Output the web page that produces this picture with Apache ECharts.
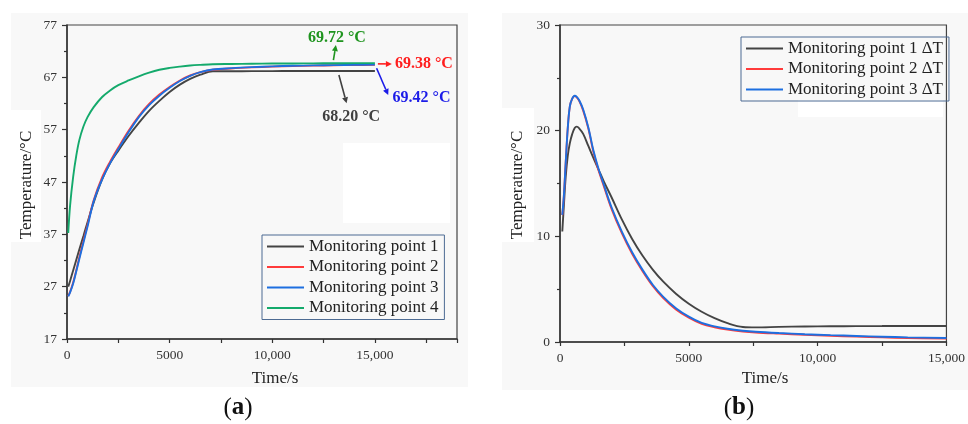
<!DOCTYPE html>
<html>
<head>
<meta charset="utf-8">
<script src="https://cdn.jsdelivr.net/npm/echarts@6.0.0/dist/echarts.min.js"></script>
<style>
  html, body { margin: 0; padding: 0; background: #ffffff; }
  #chart { width: 968px; height: 424px; }
</style>
</head>
<body>
<div id="chart"></div>
<script>
// ---- (a) temperature history at the four monitoring points ----
const timeA = [60, 150, 300, 450, 600, 800, 1000, 1300, 1700, 2100, 2500, 3000, 3500, 4000, 4500,
               5000, 5500, 6000, 6500, 7100, 8000, 9000, 10000, 11000, 12000, 13000, 14000, 15000];
const point1 = [27.0, 28.1, 30.1, 32.1, 34.1, 36.7, 39.3, 43.1, 47.4, 50.6, 53.0, 55.8, 58.3, 60.6, 62.5,
                64.2, 65.6, 66.7, 67.5, 68.15, 68.17, 68.18, 68.19, 68.2, 68.2, 68.2, 68.2, 68.2];
const point2 = [25.2, 26.0, 27.8, 30.1, 32.6, 35.7, 38.8, 43.5, 47.8, 50.9, 53.6, 56.8, 59.6, 61.9, 63.7,
                65.15, 66.4, 67.35, 68.0, 68.45, 68.7, 68.9, 69.05, 69.15, 69.23, 69.3, 69.35, 69.38];
const point3 = [25.15, 25.9, 27.6, 29.9, 32.3, 35.4, 38.5, 43.3, 47.4, 50.6, 53.3, 56.5, 59.4, 61.7, 63.5,
                65.0, 66.3, 67.3, 68.0, 68.5, 68.75, 68.95, 69.1, 69.2, 69.28, 69.34, 69.39, 69.42];
const point4 = [37.25, 42.5, 48.0, 52.0, 55.0, 57.6, 59.4, 61.3, 63.2, 64.5, 65.5, 66.4, 67.2, 67.9, 68.45,
                68.8, 69.05, 69.25, 69.38, 69.5, 69.55, 69.6, 69.63, 69.65, 69.67, 69.69, 69.71, 69.72];
const namesA = ['Monitoring point 1', 'Monitoring point 2', 'Monitoring point 3', 'Monitoring point 4'];

// ---- (b) temperature difference ΔT of points 1-3 ----
const timeB = [89, 150, 220, 300, 380, 470, 570, 650, 750, 900, 1100, 1300, 1500, 1700, 2000, 2400, 2800,
               3200, 3600, 4000, 4500, 5000, 5500, 6000, 6500, 7100, 7600, 8500, 9500, 10500, 11500,
               12500, 13500, 15000];
const delta1 = [10.46, 12.9, 15.6, 17.6, 18.8, 19.65, 20.25, 20.38, 20.2, 19.7, 18.55, 17.4, 16.3, 15.2,
                13.7, 11.6, 9.75, 8.18, 6.85, 5.73, 4.57, 3.62, 2.86, 2.25, 1.78, 1.42, 1.38, 1.43, 1.47,
                1.49, 1.5, 1.51, 1.52, 1.52];
const delta2 = [12.0, 13.8, 16.9, 20.2, 22.25, 23.0, 23.28, 23.15, 22.8, 21.9, 20.2, 17.95, 16.2, 14.75,
                12.6, 10.3, 8.35, 6.72, 5.3, 4.18, 3.08, 2.3, 1.72, 1.4, 1.18, 1.0, 0.9, 0.79, 0.68, 0.59,
                0.51, 0.44, 0.38, 0.32];
const delta3 = [12.03, 13.8, 16.9, 20.2, 22.27, 23.0, 23.3, 23.2, 22.85, 22.0, 20.3, 18.1, 16.35, 14.9,
                12.75, 10.45, 8.5, 6.85, 5.42, 4.3, 3.2, 2.4, 1.8, 1.48, 1.25, 1.07, 0.97, 0.85, 0.74, 0.65,
                0.57, 0.5, 0.44, 0.38];
const namesB = ['Monitoring point 1 ΔT', 'Monitoring point 2 ΔT', 'Monitoring point 3 ΔT'];

// Final readings shown next to the curve ends in (a)
const endLabels = [
  { series: 3, value: 69.72, color: '#1f941f' },
  { series: 1, value: 69.38, color: '#ff1e1e' },
  { series: 2, value: 69.42, color: '#1c1ce8' },
  { series: 0, value: 68.20, color: '#404040' }
];
const endTime = 15000;

const colors = ['#444444', '#ff3b3b', '#1d6fe0', '#14aa6c'];
const serif = '"Liberation Serif", "DejaVu Serif", serif';
const axisColor = '#333333';

function pairs(xs, ys) { return xs.map((x, i) => [x, ys[i]]); }

function thousands(v) {
  if (v % 5000 !== 0) return '';
  return v >= 10000 ? Math.floor(v / 1000) + ',' + String(v % 1000).padStart(3, '0') : String(v);
}

function xAxisCfg(gridIndex, max) {
  return {
    type: 'value', gridIndex, min: 0, max, interval: 2500,
    axisLine: { show: true, onZero: false, lineStyle: { color: axisColor, width: 1.5 } },
    axisTick: { show: true, length: 4, lineStyle: { color: axisColor, width: 1.2 } },
    axisLabel: { formatter: thousands, margin: 9, fontFamily: serif, fontSize: 13.5, color: '#333333' },
    splitLine: { show: false }
  };
}
function yAxisCfg(gridIndex, min, max) {
  return {
    type: 'value', gridIndex, min, max, interval: 10,
    axisLine: { show: true, onZero: false, lineStyle: { color: axisColor, width: 1.5 } },
    axisTick: { show: true, length: 5, lineStyle: { color: axisColor, width: 1.2 } },
    minorTick: { show: true, splitNumber: 2, length: 3, lineStyle: { color: axisColor, width: 1.2 } },
    axisLabel: { margin: 10, fontFamily: serif, fontSize: 13.5, color: '#333333' },
    splitLine: { show: false }
  };
}

function lineSeries(name, xIdx, xs, ys, color, width) {
  return {
    name, type: 'line', xAxisIndex: xIdx, yAxisIndex: xIdx,
    data: pairs(xs, ys), symbol: 'none', smooth: 0.35,
    lineStyle: { color, width }, itemStyle: { color }, z: 3
  };
}

const legendBase = {
  orient: 'vertical', icon: 'rect', itemWidth: 37, itemHeight: 2, itemGap: 3.5,
  borderColor: '#4d6b93', borderWidth: 1, backgroundColor: 'transparent',
  textStyle: { fontFamily: serif, fontSize: 17, lineHeight: 17, color: '#222222' }
};

const chart = echarts.init(document.getElementById('chart'), null, { renderer: 'canvas' });

const option = {
  animation: false,
  backgroundColor: '#ffffff',
  grid: [
    { left: 67, top: 25, width: 390, height: 314, show: true, borderColor: '#444444', borderWidth: 1.2, backgroundColor: 'transparent' },
    { left: 560, top: 25, width: 394, height: 317, show: true, borderColor: '#444444', borderWidth: 1.2, backgroundColor: 'transparent' }
  ],
  xAxis: [xAxisCfg(0, 19000), xAxisCfg(1, 15000)],
  yAxis: [yAxisCfg(0, 17, 77), yAxisCfg(1, 0, 30)],
  legend: [
    Object.assign({}, legendBase, { data: namesA, left: 262, top: 235, padding: [3, 6, 3, 5] }),
    Object.assign({}, legendBase, { data: namesB, left: 741, top: 37, padding: [3, 6, 3, 5] })
  ],
  series: [
    lineSeries(namesA[0], 0, timeA, point1, colors[0], 1.9),
    lineSeries(namesA[1], 0, timeA, point2, colors[1], 1.9),
    lineSeries(namesA[2], 0, timeA, point3, colors[2], 1.9),
    lineSeries(namesA[3], 0, timeA, point4, colors[3], 1.9),
    lineSeries(namesB[0], 1, timeB, delta1, colors[0], 1.9),
    lineSeries(namesB[1], 1, timeB, delta2, colors[1], 1.9),
    lineSeries(namesB[2], 1, timeB, delta3, colors[2], 1.9)
  ]
};
chart.setOption(option);

// ---- decorations: panels, axis titles, captions, end-value callouts ----
const g = [];
// light panels behind each plot, with the white patches they carry
g.push({ type: 'rect', z: -10, shape: { x: 11, y: 13, width: 457, height: 374 }, style: { fill: '#f8f8f8' }, silent: true });
g.push({ type: 'rect', z: -10, shape: { x: 502, y: 13, width: 466, height: 377 }, style: { fill: '#f8f8f8' }, silent: true });
g.push({ type: 'rect', z: -9, shape: { x: 11, y: 110, width: 30, height: 132 }, style: { fill: '#ffffff' }, silent: true });
g.push({ type: 'rect', z: -9, shape: { x: 343, y: 143, width: 107, height: 80 }, style: { fill: '#ffffff' }, silent: true });
g.push({ type: 'rect', z: -9, shape: { x: 502, y: 108, width: 32, height: 134 }, style: { fill: '#ffffff' }, silent: true });
g.push({ type: 'rect', z: -9, shape: { x: 798, y: 100, width: 145, height: 17 }, style: { fill: '#ffffff' }, silent: true });

function titleText(text, x, y, rotation) {
  return {
    type: 'text', z: 20, x, y, rotation: rotation || 0,
    style: { text, fill: '#222222', font: '17px ' + serif, align: 'center', verticalAlign: 'middle' }
  };
}
g.push(titleText('Time/s', 275, 379));
g.push(titleText('Time/s', 765, 379));
g.push(titleText('Temperature/°C', 27, 185, Math.PI / 2));
g.push(titleText('Temperature/°C', 518, 185, Math.PI / 2));

function caption(letter, x, y) {
  return {
    type: 'text', z: 20, x, y,
    style: {
      text: '{p|(}{b|' + letter + '}{p|)}', align: 'center', verticalAlign: 'middle',
      rich: {
        p: { font: '25px ' + serif, fill: '#111111' },
        b: { font: 'bold 25px ' + serif, fill: '#111111' }
      }
    }
  };
}
g.push(caption('a', 238, 408));
g.push(caption('b', 739, 408));

function arrow(x1, y1, x2, y2, color) {
  const ang = Math.atan2(y2 - y1, x2 - x1);
  const L = 6, W = 3;
  const bx = x2 - L * Math.cos(ang), by = y2 - L * Math.sin(ang);
  const nx = -Math.sin(ang), ny = Math.cos(ang);
  return [
    { type: 'line', z: 30, shape: { x1, y1, x2: bx, y2: by }, style: { stroke: color, lineWidth: 1.6 } },
    { type: 'polygon', z: 30, shape: { points: [[x2, y2], [bx + W * nx, by + W * ny], [bx - W * nx, by - W * ny]] }, style: { fill: color } }
  ];
}
function callout(text, x, y, color, align) {
  return {
    type: 'text', z: 30, x, y,
    style: { text, fill: color, font: 'bold 16px ' + serif, align: align, verticalAlign: 'middle' }
  };
}

// callout geometry relative to each curve's end point
const calloutLayout = [
  { arrow: [-41.5, -3, -39, -18], text: [-38, -25], align: 'center' },
  { arrow: [3, -1, 17, -1], text: [20, -0.6], align: 'left' },
  { arrow: [1.7, 3.6, 13.3, 30.3], text: [17.7, 33], align: 'left' },
  { arrow: [-36, 4, -28.3, 32.3], text: [-23.7, 45.7], align: 'center' }
];
endLabels.forEach((lab, i) => {
  const p = chart.convertToPixel({ xAxisIndex: 0, yAxisIndex: 0 }, [endTime, lab.value]);
  const c = calloutLayout[i];
  arrow(p[0] + c.arrow[0], p[1] + c.arrow[1], p[0] + c.arrow[2], p[1] + c.arrow[3], lab.color).forEach(e => g.push(e));
  g.push(callout(lab.value.toFixed(2) + ' °C', p[0] + c.text[0], p[1] + c.text[1], lab.color, c.align));
});

chart.setOption({ graphic: { elements: g } });
</script>
</body>
</html>
